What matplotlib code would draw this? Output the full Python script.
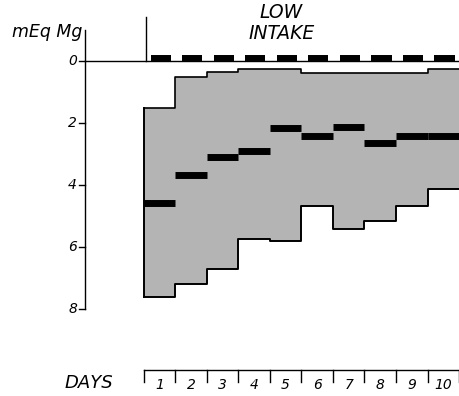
import matplotlib
matplotlib.use("Agg")
import matplotlib.pyplot as plt
import numpy as np

# data (mEq Mg, axis points downward)
days = [1, 2, 3, 4, 5, 6, 7, 8, 9, 10]
band_top = [1.52, 0.52, 0.35, 0.26, 0.26, 0.39, 0.39, 0.39, 0.39, 0.26]
band_bottom = [7.6, 7.2, 6.7, 5.75, 5.8, 4.67, 5.42, 5.16, 4.68, 4.13]
mean_values = [4.58, 3.68, 3.1, 2.9, 2.17, 2.41, 2.12, 2.63, 2.42, 2.42]
intake = [0.0] * 10
yticks = [0, 2, 4, 6, 8]

plt.rcParams['font.family'] = ['DejaVu Sans']

fig = plt.figure(figsize=(4.6, 3.96), dpi=100)
ax = fig.add_axes([0, 0, 1, 1])
ax.set_xlim(-4.557, 10.03)
ax.set_ylim(10.806, -1.968)
ax.axis('off')

edges = np.arange(len(days) + 1)
x0 = edges[:-1]

# shaded range band
top = band_top + [band_top[-1]]
bot = band_bottom + [band_bottom[-1]]
ax.fill_between(edges, top, bot, step='post', facecolor='#b4b4b4',
                edgecolor='none', zorder=1)
ax.step(edges, top, where='post', color='black', lw=1.2, zorder=2)
ax.step(edges, bot, where='post', color='black', lw=1.4, zorder=2)
ax.plot([0, 0], [band_top[0], band_bottom[0]], color='black', lw=1.4, zorder=2)

# daily means
ax.hlines(mean_values, x0, x0 + 1, color='black', lw=5, zorder=3)

# y axis
yaxis_x = -1.867
ax.plot([yaxis_x, yaxis_x], [-1.0, 8], color='black', lw=1.0)
for t in yticks:
    ax.plot([yaxis_x - 0.2, yaxis_x], [t, t], color='black', lw=1.0)
    ax.text(yaxis_x - 0.25, t, str(t), ha='right', va='center',
            fontsize=10, style='italic')
ax.text(-1.95, -0.92, 'mEq Mg', ha='right', va='center', fontsize=12.5,
        style='italic')

# zero line, start marker and intake dashes
ax.plot([yaxis_x, 10.03], [0, 0], color='black', lw=1.0)
ax.plot([0.06, 0.06], [-1.42, 0], color='black', lw=1.0)
ax.hlines(np.array(intake) - 0.09, x0 + 0.22, x0 + 0.86, color='black',
          lw=4.3, zorder=3)

ax.text(4.37, -1.55, 'LOW', ha='center', va='center', fontsize=13.5,
        style='italic')
ax.text(4.37, -0.88, 'INTAKE', ha='center', va='center', fontsize=13.5,
        style='italic')

# days bracket
ax.plot([0, 10], [9.97, 9.97], color='black', lw=1.0)
for e in edges:
    ax.plot([e, e], [9.97, 10.35], color='black', lw=1.0)
for d, x in zip(days, x0):
    ax.text(x + 0.5, 10.45, str(d), ha='center', va='center', fontsize=10,
            style='italic')
ax.text(-2.5, 10.39, 'DAYS', ha='left', va='center', fontsize=13,
        style='italic')

fig.savefig('out.png', dpi=100)
